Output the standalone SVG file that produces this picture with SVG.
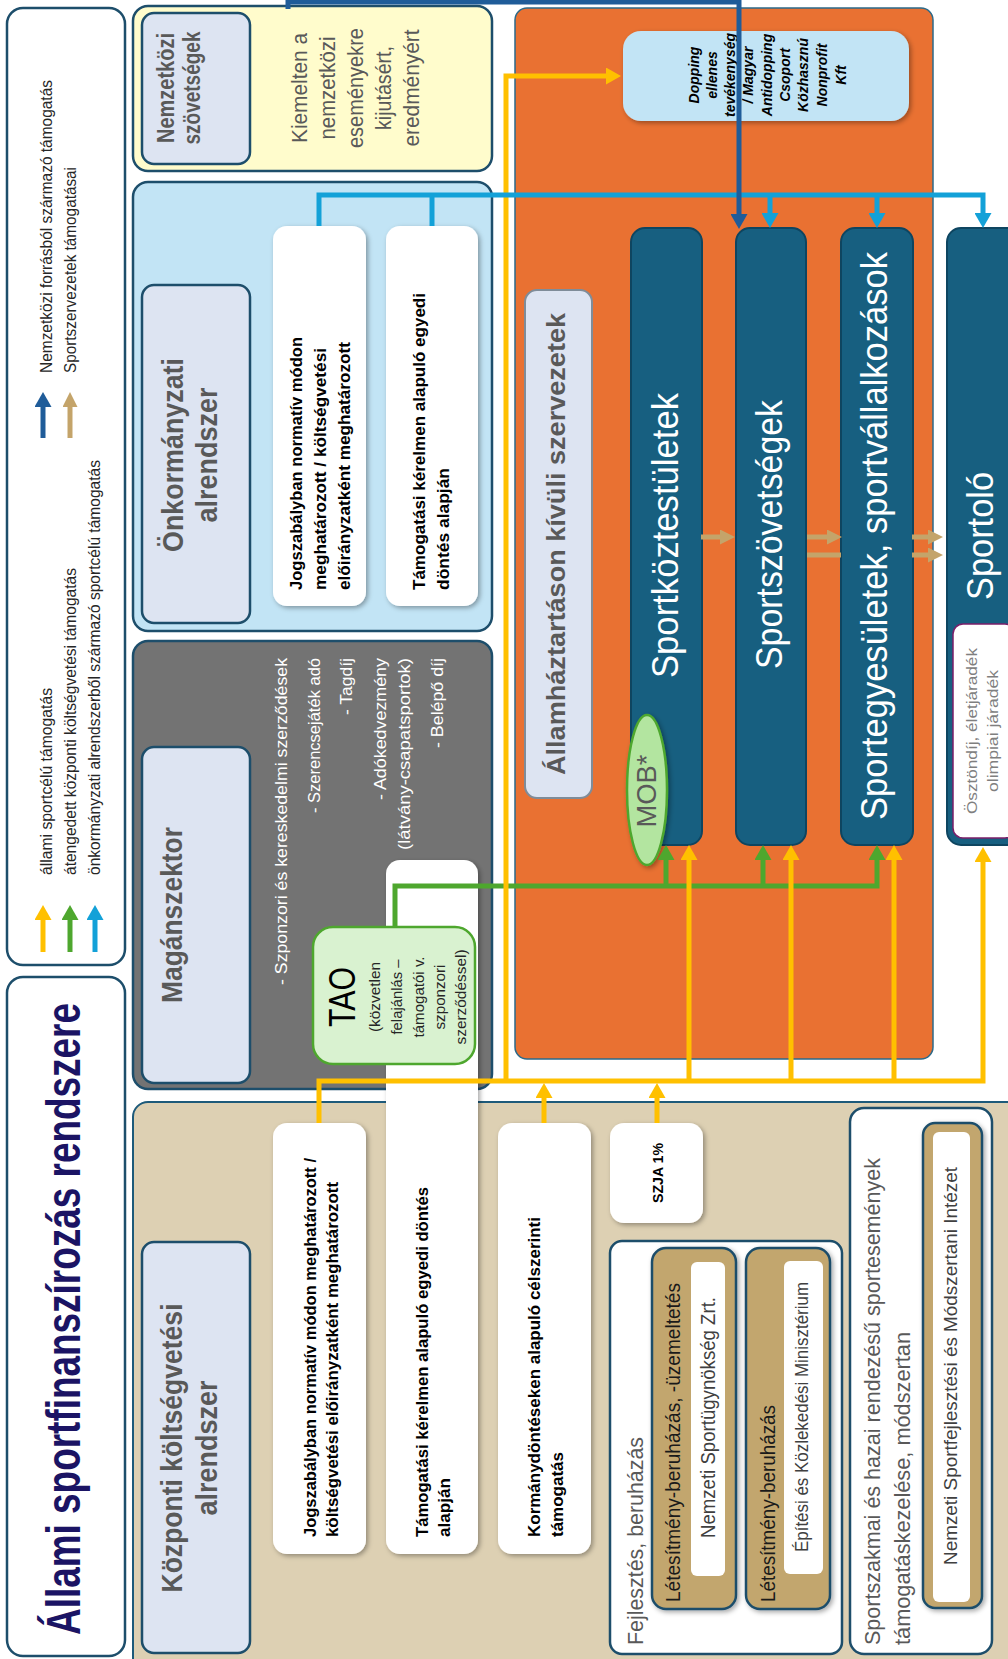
<svg xmlns="http://www.w3.org/2000/svg" width="1008" height="1659" viewBox="0 0 1008 1659">
<defs>
<style>
text{font-family:"Liberation Sans",Arial,sans-serif}
.b{font-weight:bold}
.g{fill:#595959}
.k{fill:#000}
.d{fill:#262626}
.w{fill:#fff}
.gr{fill:#404040}
.panel{stroke:#1d4e6b;stroke-width:2.5}
.lbox{fill:#dde4f2;stroke:#1d4e6b;stroke-width:2.5}
.wbox{fill:#fff;filter:url(#sh)}
.col{fill:#175f80;stroke:#0e4560;stroke-width:2}
.tan{fill:#c2a66e;stroke:#1d4e6b;stroke-width:2.5;filter:url(#sh)}
.ln{fill:none;stroke-width:5}
.y{stroke:#ffc000}
.gn{stroke:#4ea72e}
.cy{stroke:#13a1d8}
.db{stroke:#1f5c99}
.tn{stroke:#c4a46a}
</style>
<filter id="sh" x="-20%" y="-20%" width="140%" height="140%">
<feDropShadow dx="2" dy="2" stdDeviation="2.5" flood-color="#000" flood-opacity="0.35"/>
</filter>
<marker id="aY" viewBox="0 0 15 17" refX="0" refY="8.5" markerWidth="15" markerHeight="17" markerUnits="userSpaceOnUse" orient="auto"><path d="M0,0 L15,8.5 L0,17z" fill="#ffc000"/></marker>
<marker id="aG" viewBox="0 0 15 17" refX="0" refY="8.5" markerWidth="15" markerHeight="17" markerUnits="userSpaceOnUse" orient="auto"><path d="M0,0 L15,8.5 L0,17z" fill="#4ea72e"/></marker>
<marker id="aC" viewBox="0 0 15 17" refX="0" refY="8.5" markerWidth="15" markerHeight="17" markerUnits="userSpaceOnUse" orient="auto"><path d="M0,0 L15,8.5 L0,17z" fill="#13a1d8"/></marker>
<marker id="aB" viewBox="0 0 15 17" refX="0" refY="8.5" markerWidth="15" markerHeight="17" markerUnits="userSpaceOnUse" orient="auto"><path d="M0,0 L15,8.5 L0,17z" fill="#1f5c99"/></marker>
<marker id="aT" viewBox="0 0 15 15" refX="0" refY="7.5" markerWidth="15" markerHeight="15" markerUnits="userSpaceOnUse" orient="auto"><path d="M0,0 L15,7.5 L0,15z" fill="#c4a46a"/></marker>
</defs>
<rect width="1008" height="1659" fill="#fff"/>

<g id="legend">
<rect x="7" y="8" width="118" height="957" rx="16" fill="#fff" class="panel"/>
<path class="ln db" d="M43,438 V407" marker-end="url(#aB)"/>
<path class="ln tn" d="M70,438 V407" marker-end="url(#aT)"/>
<text class="d" font-size="17" transform="translate(52,373) rotate(-90)" textLength="293" lengthAdjust="spacingAndGlyphs">Nemzetközi forrásból származó támogatás</text>
<text class="d" font-size="17" transform="translate(76,373) rotate(-90)" textLength="206" lengthAdjust="spacingAndGlyphs">Sportszervezetek támogatásai</text>
<path class="ln y" d="M43,952 V920" marker-end="url(#aY)"/>
<path class="ln gn" d="M70,952 V920" marker-end="url(#aG)"/>
<path class="ln cy" d="M95,952 V920" marker-end="url(#aC)"/>
<text class="d" font-size="17" transform="translate(52,875) rotate(-90)" textLength="187" lengthAdjust="spacingAndGlyphs">állami sportcélú támogatás</text>
<text class="d" font-size="17" transform="translate(76,875) rotate(-90)" textLength="307" lengthAdjust="spacingAndGlyphs">átengedett központi költségvetési támogatás</text>
<text class="d" font-size="17" transform="translate(100,875) rotate(-90)" textLength="415" lengthAdjust="spacingAndGlyphs">önkormányzati alrendszerből származó sportcélú támogatás</text>
</g>

<g id="title">
<rect x="7" y="977" width="118" height="679" rx="16" fill="#fff" class="panel"/>
<text class="b" fill="#1b1464" font-size="48" transform="translate(80,1635) rotate(-90)" textLength="632" lengthAdjust="spacingAndGlyphs">Állami sportfinanszírozás rendszere</text>
</g>

<g id="nemzetkozi">
<rect x="133" y="6" width="359" height="165" rx="15" fill="#fffccc" class="panel"/>
<rect x="142" y="13" width="108" height="151" rx="12" class="lbox"/>
<text class="b g" font-size="23" text-anchor="middle" transform="translate(174,88) rotate(-90)" textLength="110" lengthAdjust="spacingAndGlyphs">Nemzetközi</text>
<text class="b g" font-size="23" text-anchor="middle" transform="translate(200,88) rotate(-90)" textLength="113" lengthAdjust="spacingAndGlyphs">szövetségek</text>
<text class="g" font-size="22" text-anchor="middle" transform="translate(307,88) rotate(-90)" textLength="110" lengthAdjust="spacingAndGlyphs">Kiemelten a</text>
<text class="g" font-size="22" text-anchor="middle" transform="translate(335,88) rotate(-90)" textLength="103" lengthAdjust="spacingAndGlyphs">nemzetközi</text>
<text class="g" font-size="22" text-anchor="middle" transform="translate(363,88) rotate(-90)" textLength="120" lengthAdjust="spacingAndGlyphs">eseményekre</text>
<text class="g" font-size="22" text-anchor="middle" transform="translate(391,88) rotate(-90)" textLength="84" lengthAdjust="spacingAndGlyphs">kijutásért,</text>
<text class="g" font-size="22" text-anchor="middle" transform="translate(419,88) rotate(-90)" textLength="117" lengthAdjust="spacingAndGlyphs">eredményért</text>
</g>

<g id="onkormanyzati">
<rect x="133" y="182" width="359" height="449" rx="15" fill="#c2e4f5" class="panel"/>
<rect x="142" y="285" width="108" height="338" rx="12" class="lbox"/>
<text class="b g" font-size="30" text-anchor="middle" transform="translate(183,455) rotate(-90)" textLength="194" lengthAdjust="spacingAndGlyphs">Önkormányzati</text>
<text class="b g" font-size="30" text-anchor="middle" transform="translate(217,455) rotate(-90)" textLength="135" lengthAdjust="spacingAndGlyphs">alrendszer</text>
</g>
<g id="onk-normativ">
<rect x="273" y="226" width="93" height="380" rx="14" class="wbox"/>
<text class="b k" font-size="17" transform="translate(302,590) rotate(-90)" textLength="253" lengthAdjust="spacingAndGlyphs">Jogszabályban normatív módon</text>
<text class="b k" font-size="17" transform="translate(326,590) rotate(-90)" textLength="242" lengthAdjust="spacingAndGlyphs">meghatározott / költségvetési</text>
<text class="b k" font-size="17" transform="translate(350,590) rotate(-90)" textLength="248" lengthAdjust="spacingAndGlyphs">előirányzatként meghatározott</text>
</g>
<g id="onk-egyedi">
<rect x="386" y="226" width="92" height="380" rx="14" class="wbox"/>
<text class="b k" font-size="17" transform="translate(425,590) rotate(-90)" textLength="297" lengthAdjust="spacingAndGlyphs">Támogatási kérelmen alapuló egyedi</text>
<text class="b k" font-size="17" transform="translate(449,590) rotate(-90)" textLength="122" lengthAdjust="spacingAndGlyphs">döntés alapján</text>
</g>

<g id="maganszektor">
<rect x="133" y="641" width="359" height="448" rx="15" fill="#737373" class="panel"/>
<rect x="142" y="747" width="108" height="336" rx="12" class="lbox"/>
<text class="b g" font-size="30" text-anchor="middle" transform="translate(182,915) rotate(-90)" textLength="176" lengthAdjust="spacingAndGlyphs">Magánszektor</text>
<text class="w" font-size="17" text-anchor="end" transform="translate(287,658) rotate(-90)" textLength="327" lengthAdjust="spacingAndGlyphs">- Szponzori és kereskedelmi szerződések</text>
<text class="w" font-size="17" text-anchor="end" transform="translate(320,658) rotate(-90)" textLength="155" lengthAdjust="spacingAndGlyphs">- Szerencsejáték adó</text>
<text class="w" font-size="17" text-anchor="end" transform="translate(352,658) rotate(-90)" textLength="57" lengthAdjust="spacingAndGlyphs">- Tagdíj</text>
<text class="w" font-size="17" text-anchor="end" transform="translate(386,658) rotate(-90)" textLength="142" lengthAdjust="spacingAndGlyphs">- Adókedvezmény</text>
<text class="w" font-size="17" text-anchor="end" transform="translate(410,658) rotate(-90)" textLength="192" lengthAdjust="spacingAndGlyphs">(látvány-csapatsportok)</text>
<text class="w" font-size="17" text-anchor="end" transform="translate(443,658) rotate(-90)" textLength="90" lengthAdjust="spacingAndGlyphs">- Belépő díj</text>
</g>

<g id="kozponti">
<rect x="133" y="1102" width="900" height="600" rx="15" fill="#ddd0b3" stroke="#1d5a7a" stroke-width="2"/>
<rect x="142" y="1242" width="108" height="411" rx="12" class="lbox"/>
<text class="b g" font-size="30" text-anchor="middle" transform="translate(182,1448) rotate(-90)" textLength="289" lengthAdjust="spacingAndGlyphs">Központi költségvetési</text>
<text class="b g" font-size="30" text-anchor="middle" transform="translate(217,1448) rotate(-90)" textLength="135" lengthAdjust="spacingAndGlyphs">alrendszer</text>
</g>
<g id="kp-normativ">
<rect x="273" y="1123" width="93" height="431" rx="14" class="wbox"/>
<text class="b k" font-size="17" transform="translate(316,1537) rotate(-90)" textLength="379" lengthAdjust="spacingAndGlyphs">Jogszabályban normatív módon meghatározott /</text>
<text class="b k" font-size="17" transform="translate(338,1537) rotate(-90)" textLength="355" lengthAdjust="spacingAndGlyphs">költségvetési előirányzatként meghatározott</text>
</g>
<g id="kp-egyedi">
<rect x="386" y="860" width="92" height="694" rx="14" class="wbox"/>
<text class="b k" font-size="17" transform="translate(428,1537) rotate(-90)" textLength="350" lengthAdjust="spacingAndGlyphs">Támogatási kérelmen alapuló egyedi döntés</text>
<text class="b k" font-size="17" transform="translate(450,1537) rotate(-90)" textLength="59" lengthAdjust="spacingAndGlyphs">alapján</text>
</g>
<g id="tao">
<rect x="313" y="927" width="162" height="137" rx="20" fill="#d9f2d0" stroke="#4ea72e" stroke-width="2.5"/>
<text class="k" font-size="36" text-anchor="middle" transform="translate(355,997) rotate(-90)" textLength="60" lengthAdjust="spacingAndGlyphs">TAO</text>
<text class="d" font-size="15" text-anchor="middle" transform="translate(380,997) rotate(-90)" textLength="70" lengthAdjust="spacingAndGlyphs">(közvetlen</text>
<text class="d" font-size="15" text-anchor="middle" transform="translate(402,997) rotate(-90)" textLength="75" lengthAdjust="spacingAndGlyphs">felajánlás –</text>
<text class="d" font-size="15" text-anchor="middle" transform="translate(424,997) rotate(-90)" textLength="81" lengthAdjust="spacingAndGlyphs">támogatói v.</text>
<text class="d" font-size="15" text-anchor="middle" transform="translate(445,997) rotate(-90)" textLength="65" lengthAdjust="spacingAndGlyphs">szponzori</text>
<text class="d" font-size="15" text-anchor="middle" transform="translate(466,997) rotate(-90)" textLength="95" lengthAdjust="spacingAndGlyphs">szerződéssel)</text>
</g>
<g id="kp-kormany">
<rect x="498" y="1123" width="93" height="431" rx="14" class="wbox"/>
<text class="b k" font-size="17" transform="translate(540,1537) rotate(-90)" textLength="320" lengthAdjust="spacingAndGlyphs">Kormánydöntéseken alapuló célszerinti</text>
<text class="b k" font-size="17" transform="translate(563,1537) rotate(-90)" textLength="85" lengthAdjust="spacingAndGlyphs">támogatás</text>
</g>
<g id="szja">
<rect x="610" y="1123" width="93" height="100" rx="14" class="wbox"/>
<text class="b k" font-size="15" text-anchor="middle" transform="translate(663,1173) rotate(-90)" textLength="60" lengthAdjust="spacingAndGlyphs">SZJA 1%</text>
</g>
<g id="fejlesztes">
<rect x="610" y="1241" width="232" height="413" rx="12" fill="#fff" class="panel"/>
<text class="g" font-size="22" transform="translate(643,1645) rotate(-90)" textLength="208" lengthAdjust="spacingAndGlyphs">Fejlesztés, beruházás</text>
<rect x="652" y="1248" width="84" height="361" rx="14" class="tan"/>
<text fill="#1a1a1a" font-size="20" transform="translate(680,1602) rotate(-90)" textLength="319" lengthAdjust="spacingAndGlyphs">Létesítmény-beruházás, -üzemeltetés</text>
<rect x="691" y="1262" width="34" height="314" rx="6" fill="#fff"/>
<text class="gr" font-size="20" transform="translate(715,1538) rotate(-90)" textLength="241" lengthAdjust="spacingAndGlyphs">Nemzeti Sportügynökség Zrt.</text>
<rect x="746" y="1248" width="84" height="361" rx="14" class="tan"/>
<text fill="#1a1a1a" font-size="20" transform="translate(775,1602) rotate(-90)" textLength="197" lengthAdjust="spacingAndGlyphs">Létesítmény-beruházás</text>
<rect x="784" y="1261" width="39" height="313" rx="6" fill="#fff"/>
<text class="gr" font-size="19" transform="translate(808,1552) rotate(-90)" textLength="270" lengthAdjust="spacingAndGlyphs">Építési és Közlekedési Minisztérium</text>
</g>
<g id="sportszakmai">
<rect x="850" y="1108" width="142" height="546" rx="14" fill="#fff" class="panel"/>
<text class="g" font-size="22" transform="translate(880,1645) rotate(-90)" textLength="487" lengthAdjust="spacingAndGlyphs">Sportszakmai és hazai rendezésű sportesemények</text>
<text class="g" font-size="22" transform="translate(910,1645) rotate(-90)" textLength="313" lengthAdjust="spacingAndGlyphs">támogatáskezelése, módszertan</text>
<rect x="923" y="1123" width="59" height="485" rx="12" class="tan"/>
<rect x="933" y="1132" width="37" height="470" rx="6" fill="#fff"/>
<text class="gr" font-size="19" transform="translate(957,1565) rotate(-90)" textLength="398" lengthAdjust="spacingAndGlyphs">Nemzeti Sportfejlesztési és Módszertani Intézet</text>
</g>

<g id="allamhaztartason-kivul">
<rect x="515" y="8" width="418" height="1051" rx="12" fill="#e97132" stroke="#2b6a8a" stroke-width="1.5"/>
<rect x="525" y="290" width="67" height="508" rx="12" fill="#dde4f2" stroke="#7f8c99" stroke-width="2"/>
<text class="b g" font-size="26" text-anchor="middle" transform="translate(565,544) rotate(-90)" textLength="462" lengthAdjust="spacingAndGlyphs">Államháztartáson kívüli szervezetek</text>
</g>
<g id="dopping">
<rect x="623" y="31" width="286" height="90" rx="18" fill="#c2e4f5" filter="url(#sh)"/>
<g class="b k" font-size="14" font-style="italic" text-anchor="middle">
<text transform="translate(699,75) rotate(-90)">Dopping</text>
<text transform="translate(717,75) rotate(-90)">ellenes</text>
<text transform="translate(735,75) rotate(-90)">tevékenység</text>
<text transform="translate(753,75) rotate(-90)">/ Magyar</text>
<text transform="translate(772,75) rotate(-90)">Antidopping</text>
<text transform="translate(790,75) rotate(-90)">Csoport</text>
<text transform="translate(808,75) rotate(-90)">Közhasznú</text>
<text transform="translate(827,75) rotate(-90)">Nonprofit</text>
<text transform="translate(846,75) rotate(-90)">Kft</text>
</g>
</g>
<g id="sportkoztestuletek">
<rect x="631" y="228" width="71" height="617" rx="14" class="col"/>
<text class="w" font-size="36" transform="translate(678,678) rotate(-90)" textLength="285" lengthAdjust="spacingAndGlyphs">Sportköztestületek</text>
</g>
<g id="mob">
<ellipse cx="647" cy="790" rx="20" ry="75" fill="#b3e5a0" stroke="#4ea72e" stroke-width="2.5" filter="url(#sh)"/>
<text class="g" font-size="28" text-anchor="middle" transform="translate(656,791) rotate(-90)" textLength="73" lengthAdjust="spacingAndGlyphs">MOB*</text>
</g>
<g id="sportszovetsegek">
<rect x="736" y="228" width="70" height="617" rx="14" class="col"/>
<text class="w" font-size="36" transform="translate(782,669) rotate(-90)" textLength="269" lengthAdjust="spacingAndGlyphs">Sportszövetségek</text>
</g>
<g id="sportegyesuletek">
<rect x="841" y="228" width="72" height="617" rx="14" class="col"/>
<text class="w" font-size="36" transform="translate(887,820) rotate(-90)" textLength="568" lengthAdjust="spacingAndGlyphs">Sportegyesületek, sportvállalkozások</text>
</g>
<g id="sportolo">
<rect x="947" y="228" width="75" height="617" rx="14" class="col"/>
<text class="w" font-size="36" transform="translate(993,600) rotate(-90)" textLength="128" lengthAdjust="spacingAndGlyphs">Sportoló</text>
<rect x="953" y="624" width="62" height="214" rx="10" fill="#fff" stroke="#7b1f6a" stroke-width="1.5"/>
<text fill="#7f7f7f" font-size="15" text-anchor="middle" transform="translate(977,731) rotate(-90)" textLength="166" lengthAdjust="spacingAndGlyphs">Ösztöndíj, életjáradék</text>
<text fill="#7f7f7f" font-size="15" text-anchor="middle" transform="translate(998,731) rotate(-90)" textLength="122" lengthAdjust="spacingAndGlyphs">olimpiai járadék</text>
</g>

<g id="connectors">
<path class="ln gn" d="M395,927 V886 H877 V860" marker-end="url(#aG)"/>
<path class="ln gn" d="M666,886 V860" marker-end="url(#aG)"/>
<path class="ln gn" d="M763,886 V860" marker-end="url(#aG)"/>
<path class="ln y" d="M319,1123 V1081 H983 V862" marker-end="url(#aY)"/>
<path class="ln y" d="M506,1081 V76 H606" marker-end="url(#aY)"/>
<path class="ln y" d="M689,1081 V860" marker-end="url(#aY)"/>
<path class="ln y" d="M791,1081 V860" marker-end="url(#aY)"/>
<path class="ln y" d="M894,1081 V860" marker-end="url(#aY)"/>
<path class="ln y" d="M544,1123 V1098" marker-end="url(#aY)"/>
<path class="ln y" d="M657,1123 V1098" marker-end="url(#aY)"/>
<path class="ln cy" d="M319,226 V195 H983 V213" marker-end="url(#aC)"/>
<path class="ln cy" d="M432,226 V195"/>
<path class="ln cy" d="M770,195 V213" marker-end="url(#aC)"/>
<path class="ln cy" d="M877,195 V213" marker-end="url(#aC)"/>
<path class="ln db" d="M288,9 V2 H739 V214" marker-end="url(#aB)"/>
<path class="ln tn" d="M701,537 H720" marker-end="url(#aT)"/>
<path class="ln tn" d="M807,537 H827" marker-end="url(#aT)"/>
<path class="ln tn" d="M807,555 H841"/>
<path class="ln tn" d="M912,537 H928" marker-end="url(#aT)"/>
<path class="ln tn" d="M912,555 H928" marker-end="url(#aT)"/>
</g>
</svg>
